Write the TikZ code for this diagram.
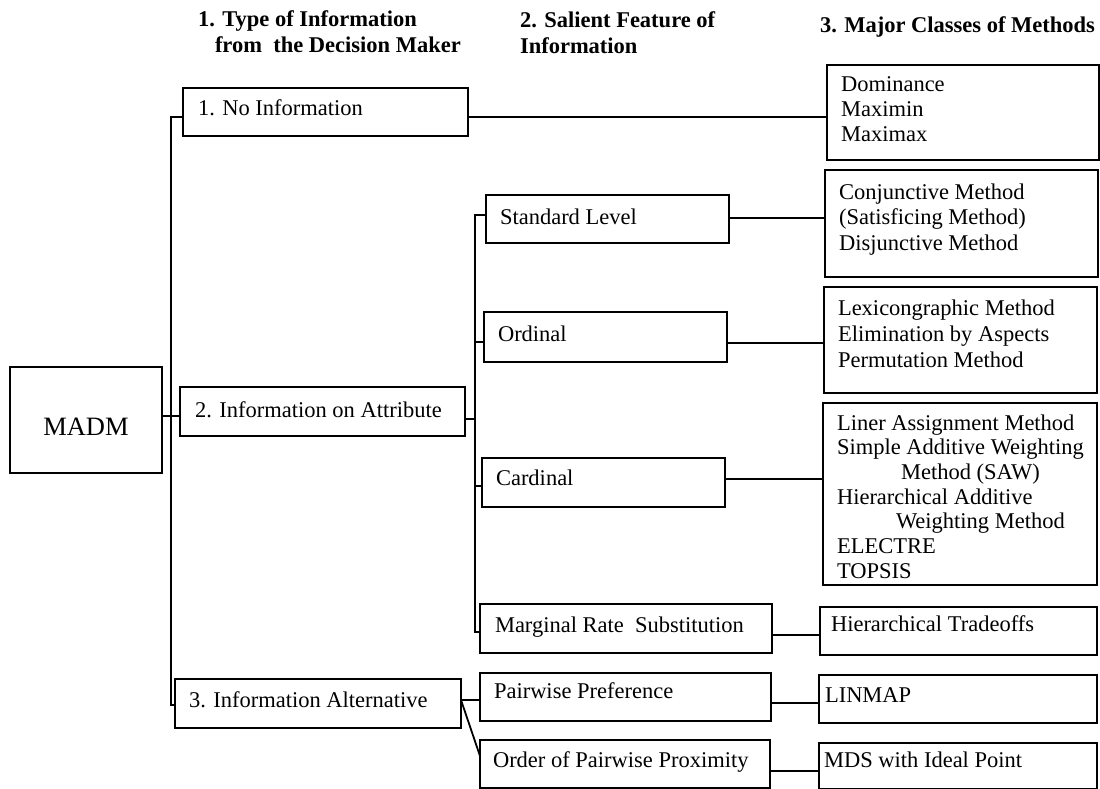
\documentclass[tikz,border=0pt]{standalone}
\usepackage{fontspec}
\setmainfont{Liberation Serif}
% left-aligned block of lines whose baseline is that of its first line
\newcommand\mlines[1]{\begin{tabular}[t]{@{}l@{}}#1\end{tabular}}
% \panel{name}{x1}{y1}{x2}{y2}: empty framed box given by its corners
\newcommand\panel[5]{\node[frame, minimum width=#4-#2, minimum height=#5-#3] (#1) at (#2,#3) {};}
\begin{document}
\begin{tikzpicture}[x=1pt, y=-1pt,
  every node/.style={inner sep=0pt, outer sep=0pt},
  frame/.style={draw, line width=1.8pt, anchor=north west},
  lbl/.style={anchor=base west, font=\fontsize{22.5}{25}\selectfont},
  head/.style={anchor=base west, font=\fontsize{22.5}{26}\selectfont\bfseries},
  link/.style={line width=1.8pt}]
\useasboundingbox (0,0) rectangle (1100,789);

% column headings
\node[head] (h1a) at (198,27) {1. Type of Information};
\node[head] (h1b) at (215,53) {from\ \ the Decision Maker};
\node[head] (h2a) at (520,28) {2. Salient Feature of};
\node[head] (h2b) at (520,54) {Information};
\node[head] (h3)  at (820,33) {3. Major Classes of Methods};

% root
\panel{madm}{10}{367}{162}{473}
\node[font=\fontsize{26.5}{30}\selectfont] (tmadm) at (86,427) {MADM};

% level 1: type of information
\panel{b1}{183}{88}{468}{136}
\panel{b2}{180}{387}{465}{436}
\panel{b3}{175}{679}{461}{728}
\node[lbl] (tb1) at (198,116) {1. No Information};
\node[lbl] (tb2) at (195,417) {2. Information on Attribute};
\node[lbl] (tb3) at (189,707) {3. Information Alternative};

% level 2: salient feature
\panel{s1}{486}{195}{729}{243}
\panel{s2}{484}{312}{727}{362}
\panel{s3}{482}{458}{725}{507}
\panel{s4}{480}{604}{772}{653}
\panel{s5}{480}{673}{771}{721}
\panel{s6}{480}{740}{770}{788}
\node[lbl] (ts1) at (500,224) {Standard Level};
\node[lbl] (ts2) at (498,341) {Ordinal};
\node[lbl] (ts3) at (496,485) {Cardinal};
\node[lbl] (ts4) at (495,632) {Marginal Rate\ \ Substitution};
\node[lbl] (ts5) at (494,698) {Pairwise Preference};
\node[lbl] (ts6) at (493,767) {Order of Pairwise Proximity};

% level 3: classes of methods
\panel{m1}{827}{65}{1099}{160}
\panel{m2}{825}{170}{1098}{277}
\panel{m3}{824}{287}{1097}{393}
\panel{m4}{823}{403}{1097}{585}
\panel{m5}{820}{607}{1097}{655}
\panel{m6}{819}{675}{1097}{723}
\panel{m7}{819}{743}{1097}{789}
\node[lbl] (tm1) at (841,92) {\mlines{Dominance\\ Maximin\\ Maximax}};
\node[lbl, font=\fontsize{22.5}{25.5}\selectfont] (tm2) at (839,199)
  {\mlines{Conjunctive Method\\ (Satisficing Method)\\ Disjunctive Method}};
\node[lbl, font=\fontsize{22.5}{26}\selectfont] (tm3) at (838,315)
  {\mlines{Lexicongraphic Method\\ Elimination by Aspects\\ Permutation Method}};
\node[lbl, font=\fontsize{22.5}{24.7}\selectfont] (tm4) at (837,430)
  {\mlines{Liner Assignment Method\\ Simple Additive Weighting\\
   \hspace*{64pt}Method (SAW)\\ Hierarchical Additive\\
   \hspace*{59pt}Weighting Method\\ ELECTRE\\ TOPSIS}};
\node[lbl] (tm5) at (831,631) {Hierarchical Tradeoffs};
\node[lbl] (tm6) at (825,702) {LINMAP};
\node[lbl] (tm7) at (824,767) {MDS with Ideal Point};

% rows and columns of the connectors
\coordinate (rA)  at (0,117);
\coordinate (rM)  at (0,416);
\coordinate (rC)  at (0,705);
\coordinate (rB2) at (0,419);
\coordinate (rS1) at (0,215);
\coordinate (rS2) at (0,342);
\coordinate (rS3) at (0,486);
\coordinate (rS4) at (0,632);
\coordinate (rM2) at (0,218);
\coordinate (rM3) at (0,343);
\coordinate (rM4) at (0,479);
\coordinate (rM5) at (0,635);
\coordinate (rP)  at (0,700);
\coordinate (rQ)  at (0,756);
\coordinate (rM6) at (0,703);
\coordinate (rM7) at (0,771);
\coordinate (tk)  at (171,0);
\coordinate (br)  at (475,0);

% trunk from the root to the three types
\draw[link] (b1.west |- rA) -- (tk |- rA) -- (tk |- rC) -- (b3.west |- rC);
\draw[link] (madm.east |- rM) -- (b2.west |- rM);
\draw[link] (b1.east |- rA) -- (m1.west |- rA);

% branch for information on attribute
\draw[link] (b2.east |- rB2) -- (br |- rB2);
\draw[link] (s1.west |- rS1) -- (br |- rS1) -- (br |- rS4) -- (s4.west |- rS4);
\draw[link] (br |- rS2) -- (s2.west |- rS2);
\draw[link] (br |- rS3) -- (s3.west |- rS3);

% branch for information on alternatives
\draw[link] (b3.east |- rP) -- (s5.west |- rP);
\draw[link] (b3.east |- rP) -- (s6.west |- rQ);

% features to methods
\draw[link] (s1.east |- rM2) -- (m2.west |- rM2);
\draw[link] (s2.east |- rM3) -- (m3.west |- rM3);
\draw[link] (s3.east |- rM4) -- (m4.west |- rM4);
\draw[link] (s4.east |- rM5) -- (m5.west |- rM5);
\draw[link] (s5.east |- rM6) -- (m6.west |- rM6);
\draw[link] (s6.east |- rM7) -- (m7.west |- rM7);
\end{tikzpicture}
\end{document}
